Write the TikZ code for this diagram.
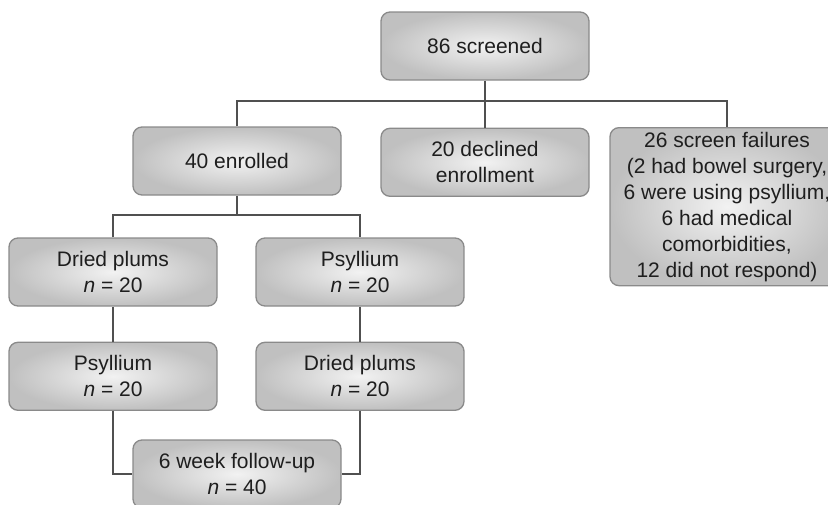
\documentclass[tikz,border=0pt]{standalone}
\usepackage{fontspec}
\setmainfont{Liberation Sans}
\usetikzlibrary{positioning}
\definecolor{boxedge}{RGB}{138,138,138}
\definecolor{boxdark}{RGB}{192,192,192}
\definecolor{boxlight}{RGB}{242,242,242}
\definecolor{linkgray}{RGB}{80,80,80}
\definecolor{txtgray}{RGB}{30,30,30}
\tikzset{
    stage/.style={
        draw=boxedge,line width=1.3pt,rounded corners=9pt,
        inner color=boxlight,outer color=boxdark,
        minimum width=208pt,minimum height=68pt,
        align=center,text=txtgray,
        font=\fontsize{21}{26}\selectfont
    },
    link/.style={
        line width=1.4pt,draw=linkgray
    }
}
\begin{document}
\begin{tikzpicture}[x=1pt,y=-1pt]
\useasboundingbox (0,0) rectangle (828,504);
\clip (0,0) rectangle (828,504);

\node[stage] (screen) at (485,46) {86 screened};

\node[stage,below=47pt of screen] (declined) {20 declined\\enrollment};

\node[stage] (enrol) at (237,161) {40 enrolled};

\node[stage,minimum width=234pt,minimum height=158pt,anchor=north]
(fail) at (727,127)
{26 screen failures\\(2 had bowel surgery,\\6 were using psyllium,\\6 had medical\\comorbidities,\\12 did not respond)};

\node[stage] (plums1) at (113,272) {Dried plums\\\textit{n} = 20};
\node[stage] (psyl1) at (360,272) {Psyllium\\\textit{n} = 20};

\node[stage,below=35pt of plums1] (psyl2) {Psyllium\\\textit{n} = 20};
\node[stage,below=35pt of psyl1] (plums2) {Dried plums\\\textit{n} = 20};

\node[stage] (follow) at (237,474) {6 week follow-up\\\textit{n} = 40};

% connectors
\coordinate (topbus) at (485,101);
\coordinate (midbus) at (237,215);

\draw[link] (screen) -- (declined);
\draw[link] (enrol.north) |- (topbus) -| (fail.north);
\draw[link] (enrol) -- (midbus);
\draw[link] (plums1.north) |- (midbus) -| (psyl1.north);
\draw[link] (plums1) -- (psyl2);
\draw[link] (psyl1) -- (plums2);
\draw[link] (psyl2.south) |- (follow.west);
\draw[link] (plums2.south) |- (follow.east);

\end{tikzpicture}
\end{document}
